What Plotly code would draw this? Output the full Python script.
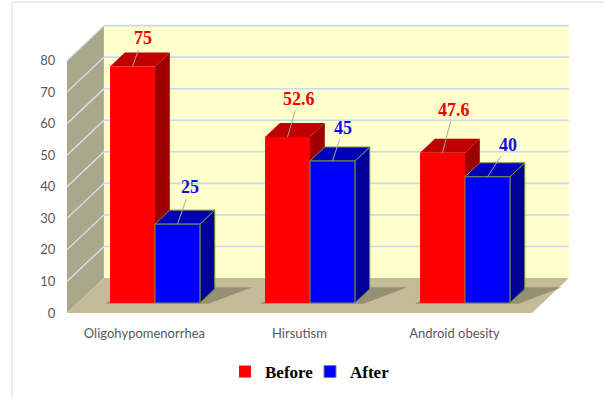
import plotly.graph_objects as go

# ---------------- data ----------------
categories = ["Oligohypomenorrhea", "Hirsutism", "Android obesity"]
series_names = ["Before", "After"]
before = [75, 52.6, 47.6]
after = [25, 45, 40]
y_ticks = [0, 10, 20, 30, 40, 50, 60, 70, 80]

# ---------------- geometry / style ----------------
W, H = 604, 397
PX_CAT = 155.0        # pixels per category step
PX_UNIT = 3.155       # pixels per value unit
X0_PX = 155.0         # pixel of first category centre (bar plane)
FLOOR_PX = 313.0      # pixel row of the front floor edge
DEPTH_PX = (37.0, 35.0)
TB = 10 / 35          # depth position of bar fronts (0 front, 1 back wall)
BAR_DEPTH = 0.40
BAR_W = 0.29
YMAX = 80

DXu = DEPTH_PX[0] / PX_CAT
DYu = DEPTH_PX[1] / PX_UNIT
x_r0 = -X0_PX / PX_CAT
x_r1 = x_r0 + W / PX_CAT
y_r0 = -TB * DYu
y_r1 = y_r0 + FLOOR_PX / PX_UNIT
y_dom0 = (H - FLOOR_PX) / H

face_cols = {
    "Before": dict(front="#FF0000", top="#C00000", side="#9C0000", line=None, text="#EE0000"),
    "After": dict(front="#0000FF", top="#0000B8", side="#000098", line="#77933C", text="#1010DD"),
}
label_offsets = {
    "Before": [(10, -28), (11, -38), (11, -43)],
    "After": [(13, -37), (11, -33), (21, -32)],
}


def P(x, y, t):
    return x + (t - TB) * DXu, y + (t - TB) * DYu


def path(pts):
    return "M " + " L ".join(f"{a:.5f},{b:.5f}" for a, b in pts) + " Z"


idx = list(range(len(categories)))
left = -0.5
right = len(categories) - 0.5

shapes = []
# left wall
shapes.append(dict(type="path", xref="x", yref="y", layer="below",
                   path=path([P(left, 0, 0), P(left, YMAX, 0), P(left, YMAX, 1), P(left, 0, 1)]),
                   fillcolor="#A9A88C", line=dict(width=0)))
# floor
shapes.append(dict(type="path", xref="x", yref="y", layer="below",
                   path=path([P(left, 0, 0), P(right, 0, 0), P(right, 0, 1), P(left, 0, 1)]),
                   fillcolor="#C4BC98", line=dict(width=0)))
# back wall
shapes.append(dict(type="path", xref="x", yref="y", layer="below",
                   path=path([P(left, 0, 1), P(left, YMAX, 1), P(right, YMAX, 1), P(right, 0, 1)]),
                   fillcolor="#FFFFCC", line=dict(width=0)))
# grid lines
for v in y_ticks[1:]:
    a, b = P(left, v, 1)
    c, d = P(right, v, 1)
    shapes.append(dict(type="line", xref="x", yref="y", layer="below", x0=a, y0=b, x1=c, y1=d,
                       line=dict(color="#C9D8EC", width=1.6)))
    e, f = P(left, v, 0)
    shapes.append(dict(type="line", xref="x", yref="y", layer="below", x0=e, y0=f, x1=a, y1=b,
                       line=dict(color="#DCE4EE", width=1.3)))

# soft shadows on the floor
for i in idx:
    xa = i - BAR_W - 0.03
    xb = i + BAR_W + 0.03
    shapes.append(dict(type="path", xref="x", yref="y", layer="below",
                       path=path([P(xa, 0, TB - 0.02), P(xb + 0.03, 0, TB - 0.02),
                                  P(xb + 0.2, 0, TB + BAR_DEPTH + 0.05), P(xa + 0.1, 0, TB + BAR_DEPTH + 0.05)]),
                       fillcolor="rgba(70,65,50,0.35)", line=dict(width=0)))

# 3-D faces of bars
for name, vals, sgn in [("Before", before, -1), ("After", after, 1)]:
    c = face_cols[name]
    ln = dict(width=1, color=c["line"]) if c["line"] else dict(width=0)
    for i, v in zip(idx, vals):
        xc = i + sgn * BAR_W / 2
        xa, xb = xc - BAR_W / 2, xc + BAR_W / 2
        side = [P(xb, 0, TB), P(xb, 0, TB + BAR_DEPTH), P(xb, v, TB + BAR_DEPTH), P(xb, v, TB)]
        top = [P(xa, v, TB), P(xb, v, TB), P(xb, v, TB + BAR_DEPTH), P(xa, v, TB + BAR_DEPTH)]
        shapes.append(dict(type="path", xref="x", yref="y", layer="below", path=path(side),
                           fillcolor=c["side"], line=ln))
        shapes.append(dict(type="path", xref="x", yref="y", layer="below", path=path(top),
                           fillcolor=c["top"], line=ln))

# outer frame
shapes.append(dict(type="line", xref="paper", yref="paper", x0=12 / W, x1=12 / W, y0=0, y1=1 - 2 / H,
                   line=dict(color="#D9D9D9", width=1)))
shapes.append(dict(type="line", xref="paper", yref="paper", x0=12 / W, x1=1, y0=1 - 2 / H, y1=1 - 2 / H,
                   line=dict(color="#D9D9D9", width=1)))

fig = go.Figure()
for name, vals in [("Before", before), ("After", after)]:
    c = face_cols[name]
    fig.add_trace(go.Bar(
        x=idx, y=vals, name=name,
        marker=dict(color=c["front"],
                    line=dict(color=c["line"] or c["front"], width=1 if c["line"] else 0)),
        hoverinfo="skip",
    ))

# dummy trace for front-plane axes
fig.add_trace(go.Scatter(x=idx, y=[0] * len(idx), xaxis="x2", yaxis="y2", mode="markers",
                         marker=dict(opacity=0), showlegend=False, hoverinfo="skip"))

annotations = []
for name, vals, sgn in [("Before", before, -1), ("After", after, 1)]:
    c = face_cols[name]
    for i, v, (ax, ay) in zip(idx, vals, label_offsets[name]):
        annotations.append(dict(
            x=i + sgn * BAR_W / 2, y=v, xref="x", yref="y",
            text=f"{v:g}", showarrow=True, arrowhead=0, arrowwidth=1, arrowcolor="#A6A6A6",
            ax=ax, ay=ay, standoff=0,
            font=dict(family="Liberation Serif", size=18, color=c["text"], weight="bold"),
        ))

tickfont = dict(family="Lato", size=13, color="#595959")
fig.update_layout(
    template="none",
    width=W, height=H, autosize=False,
    margin=dict(l=0, r=0, t=0, b=0, autoexpand=False),
    paper_bgcolor="white", plot_bgcolor="rgba(0,0,0,0)",
    barmode="group", bargap=1 - 2 * BAR_W, bargroupgap=0,
    shapes=shapes, annotations=annotations,
    xaxis=dict(domain=[0, 1], range=[x_r0, x_r1], showgrid=False, zeroline=False, automargin=False,
               showticklabels=False, showline=False, ticks="", fixedrange=True),
    yaxis=dict(domain=[y_dom0, 1], range=[y_r0, y_r1], showgrid=False, zeroline=False, automargin=False,
               showticklabels=False, showline=False, ticks="", fixedrange=True),
    xaxis2=dict(overlaying="x", anchor="y", range=[x_r0 + TB * DXu, x_r1 + TB * DXu], automargin=False,
                tickvals=idx, ticktext=categories, showgrid=False, zeroline=False, showline=False,
                ticks="outside", ticklen=8, tickcolor="rgba(0,0,0,0)", tickfont=tickfont),
    yaxis2=dict(overlaying="y", anchor="free", position=66 / W, side="left", automargin=False,
                range=[y_r0 + TB * DYu, y_r1 + TB * DYu], tickvals=y_ticks,
                showgrid=False, zeroline=False, showline=False,
                ticks="outside", ticklen=8, tickcolor="rgba(0,0,0,0)", tickfont=tickfont),
    legend=dict(orientation="h", x=310 / W, xanchor="center", y=(H - 372) / H, yanchor="middle",
                entrywidth=40, entrywidthmode="pixels", tracegroupgap=0,
                font=dict(family="Liberation Serif", size=17, color="black", weight="bold"),
                bgcolor="rgba(0,0,0,0)"),
    showlegend=True,
)

fig.write_html("out.html")
